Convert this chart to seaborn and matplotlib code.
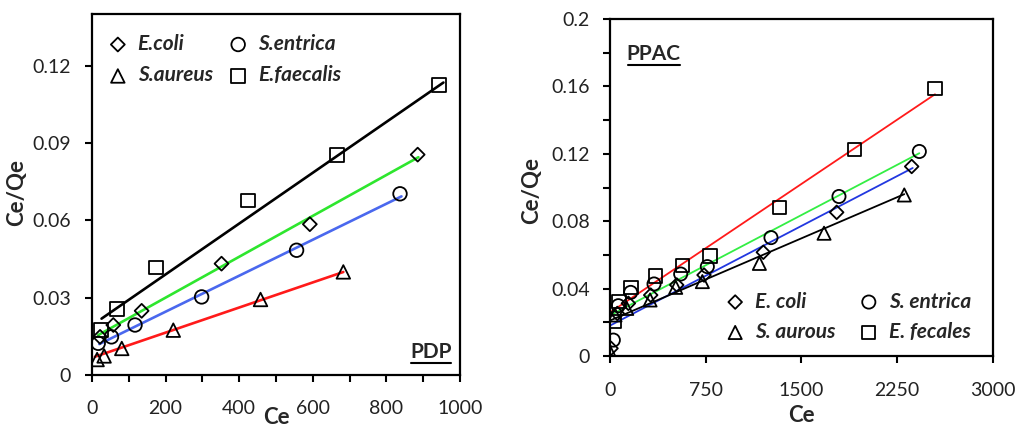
import numpy as np
import pandas as pd
import matplotlib
matplotlib.use("Agg")
import matplotlib.pyplot as plt
import seaborn as sns
from matplotlib import font_manager as fm
from matplotlib.lines import Line2D
from matplotlib.ticker import MultipleLocator, FixedLocator, FixedFormatter

# ---------------- PDP data ----------------
pdp_ecoli_x = [22, 58, 135, 352, 592, 885]
pdp_ecoli_y = [0.0148, 0.0194, 0.0249, 0.0432, 0.0585, 0.0855]
pdp_entrica_x = [17, 53, 117, 298, 556, 837]
pdp_entrica_y = [0.0123, 0.0148, 0.0194, 0.0303, 0.0484, 0.0703]
pdp_aureus_x = [14, 33, 81, 221, 458, 683]
pdp_aureus_y = [0.0060, 0.0074, 0.0103, 0.0174, 0.0293, 0.0400]
pdp_faecalis_x = [24, 69, 174, 425, 665, 944]
pdp_faecalis_y = [0.0174, 0.0255, 0.0417, 0.0677, 0.0852, 0.1126]

# linear fits: intercept, slope, x range
pdp_fit_ecoli = (0.01415, 7.93e-5, 17, 887)
pdp_fit_entrica = (0.0106, 6.98e-5, 20, 841)
pdp_fit_aureus = (0.0067, 4.87e-5, 8, 683)
pdp_fit_faecalis = (0.0193, 9.86e-5, 26, 955)

# ---------------- PPAC data ----------------
ppac_ecoli_x = [8, 57, 144, 319, 523, 737, 1202, 1777, 2365]
ppac_ecoli_y = [0.0046, 0.0253, 0.0313, 0.0362, 0.0422, 0.0481, 0.0616, 0.0853, 0.1125]
ppac_entrica_x = [26, 65, 162, 345, 554, 763, 1262, 1795, 2425]
ppac_entrica_y = [0.0095, 0.0299, 0.0378, 0.0428, 0.0487, 0.0531, 0.0703, 0.0947, 0.1214]
ppac_aurous_x = [5, 39, 131, 314, 515, 724, 1171, 1678, 2307]
ppac_aurous_y = [0.0016, 0.0244, 0.0283, 0.0333, 0.0408, 0.0442, 0.0550, 0.0729, 0.0956]
ppac_fecales_x = [34, 71, 165, 358, 570, 784, 1327, 1915, 2548]
ppac_fecales_y = [0.0204, 0.0323, 0.0408, 0.0475, 0.0537, 0.0594, 0.0883, 0.1228, 0.1590]

ppac_fit_ecoli = (0.0181, 3.94e-5, 8, 2373)
ppac_fit_entrica = (0.0241, 3.97e-5, 8, 2425)
ppac_fit_aurous = (0.0211, 3.25e-5, 8, 2307)
ppac_fit_fecales = (0.0259, 5.08e-5, 8, 2548)

# ticks
pdp_xticks = [0, 200, 400, 600, 800, 1000]
pdp_xticklabels = ["0", "200", "400", "600", "800", "1000"]
pdp_yticks = [0, 0.03, 0.06, 0.09, 0.12]
pdp_yticklabels = ["0", "0.03", "0.06", "0.09", "0.12"]
ppac_xticks = [0, 750, 1500, 2250, 3000]
ppac_xticklabels = ["0", "750", "1500", "2250", "3000"]
ppac_yticks = [0, 0.04, 0.08, 0.12, 0.16, 0.2]
ppac_yticklabels = ["0", "0.04", "0.08", "0.12", "0.16", "0.2"]


def pick_font(*names):
    for n in names:
        try:
            fm.findfont(fm.FontProperties(family=n), fallback_to_default=False)
            return n
        except ValueError:
            pass
    return "DejaVu Sans"


sns.set_style("ticks")
FONT = pick_font("Lato", "Open Sans")
plt.rcParams["font.family"] = [FONT, "DejaVu Sans"]

fig = plt.figure(figsize=(10.15, 4.28), dpi=100)
ax1 = fig.add_axes([0.0906, 0.1238, 0.3626, 0.8432])
ax2 = fig.add_axes([0.601, 0.168, 0.377, 0.7876])


def scatter(ax, xs, ys, marker, s, name):
    sns.scatterplot(x=xs, y=ys, marker=marker, s=s, color="black",
                    facecolor="none", edgecolor="black", linewidth=1.3,
                    ax=ax, zorder=3, label=name, legend=False)
    return ax.collections[-1]


def fit_line(ax, fit, color, lw):
    b, m, x0, x1 = fit
    xs = np.array([x0, x1], dtype=float)
    sns.lineplot(x=xs, y=b + m * xs, color=color, linewidth=lw, ax=ax, zorder=2)


def style_axes(ax):
    for sp in ax.spines.values():
        sp.set_visible(True)
        sp.set_color("black")
        sp.set_linewidth(1.6)
    ax.tick_params(which="both", direction="out", color="black", width=1.5,
                   labelsize=14, labelcolor="#222222")
    ax.tick_params(which="major", length=5)
    ax.tick_params(which="minor", length=5)


LEG_PROP = dict(weight="bold", style="italic", size=15)

# ---------------- PDP panel ----------------
fit_line(ax1, pdp_fit_faecalis, "black", 1.9)
fit_line(ax1, pdp_fit_ecoli, "#2ee62e", 1.9)
fit_line(ax1, pdp_fit_entrica, "#4a68ee", 1.9)
fit_line(ax1, pdp_fit_aureus, "#ff1a1a", 1.9)
h_ecoli = scatter(ax1, pdp_ecoli_x, pdp_ecoli_y, "D", 50, "E.coli")
h_entrica = scatter(ax1, pdp_entrica_x, pdp_entrica_y, "o", 95, "S.entrica")
h_aureus = scatter(ax1, pdp_aureus_x, pdp_aureus_y, "^", 95, "S.aureus")
h_faecalis = scatter(ax1, pdp_faecalis_x, pdp_faecalis_y, "s", 100, "E.faecalis")

ax1.set_xlim(0, 1000)
ax1.set_ylim(0, 0.14)
ax1.xaxis.set_major_locator(FixedLocator(pdp_xticks))
ax1.xaxis.set_major_formatter(FixedFormatter(pdp_xticklabels))
ax1.xaxis.set_minor_locator(MultipleLocator(100))
ax1.yaxis.set_major_locator(FixedLocator(pdp_yticks))
ax1.yaxis.set_major_formatter(FixedFormatter(pdp_yticklabels))
style_axes(ax1)
ax1.tick_params(axis="x", pad=13)
ax1.tick_params(axis="y", pad=10)
ax1.set_xlabel("Ce", fontsize=16, fontweight="bold")
ax1.set_ylabel("Ce/Qe", fontsize=16, fontweight="bold")
ax1.xaxis.set_label_coords(0.5, -0.088)
ax1.yaxis.set_label_coords(-0.177, 0.507)

ax1.legend(handles=[h_ecoli, h_aureus, h_entrica, h_faecalis], ncol=2,
           loc="upper left", bbox_to_anchor=(0.042, 0.945), frameon=False,
           prop=LEG_PROP, handletextpad=0.45, columnspacing=0.72,
           labelspacing=0.55, handlelength=1.0, borderpad=0,
           borderaxespad=0, scatterpoints=1)

t1 = ax1.text(0.978, 0.047, "PDP", transform=ax1.transAxes, ha="right",
              va="baseline", fontsize=15, fontweight="bold")

# ---------------- PPAC panel ----------------
fit_line(ax2, ppac_fit_fecales, "#ff1a1a", 1.3)
fit_line(ax2, ppac_fit_entrica, "#33ee44", 1.3)
fit_line(ax2, ppac_fit_ecoli, "#2238e0", 1.3)
fit_line(ax2, ppac_fit_aurous, "black", 1.3)
g_ecoli = scatter(ax2, ppac_ecoli_x, ppac_ecoli_y, "D", 48, "E. coli")
g_entrica = scatter(ax2, ppac_entrica_x, ppac_entrica_y, "o", 90, "S. entrica")
g_aurous = scatter(ax2, ppac_aurous_x, ppac_aurous_y, "^", 90, "S. aurous")
g_fecales = scatter(ax2, ppac_fecales_x, ppac_fecales_y, "s", 90, "E. fecales")

ax2.set_xlim(0, 3000)
ax2.set_ylim(0, 0.2)
ax2.xaxis.set_major_locator(FixedLocator(ppac_xticks))
ax2.xaxis.set_major_formatter(FixedFormatter(ppac_xticklabels))
ax2.yaxis.set_major_locator(FixedLocator(ppac_yticks))
ax2.yaxis.set_major_formatter(FixedFormatter(ppac_yticklabels))
ax2.yaxis.set_minor_locator(MultipleLocator(0.02))
style_axes(ax2)
ax2.tick_params(axis="x", pad=14)
ax2.tick_params(axis="y", pad=9.5)
ax2.set_xlabel("Ce", fontsize=16, fontweight="bold")
ax2.set_ylabel("Ce/Qe", fontsize=16, fontweight="bold")
ax2.xaxis.set_label_coords(0.5, -0.145)
ax2.yaxis.set_label_coords(-0.178, 0.49)

ax2.legend(handles=[g_ecoli, g_aurous, g_entrica, g_fecales], ncol=2,
           loc="lower right", bbox_to_anchor=(0.943, 0.042), frameon=False,
           prop=LEG_PROP, handletextpad=0.45, columnspacing=1.1,
           labelspacing=0.5, handlelength=1.0, borderpad=0,
           borderaxespad=0, scatterpoints=1)

t2 = ax2.text(0.0436, 0.878, "PPAC", transform=ax2.transAxes, ha="left",
              va="baseline", fontsize=15, fontweight="bold")

# underline the panel tags
fig.canvas.draw()
renderer = fig.canvas.get_renderer()
for t in (t1, t2):
    bb = t.get_window_extent(renderer)
    y = bb.y0 - 0.5
    fig.add_artist(Line2D([bb.x0 + 1, bb.x1 - 1], [y, y], color="black",
                          linewidth=1.5, transform=None))

fig.savefig("out.png", dpi=100)
